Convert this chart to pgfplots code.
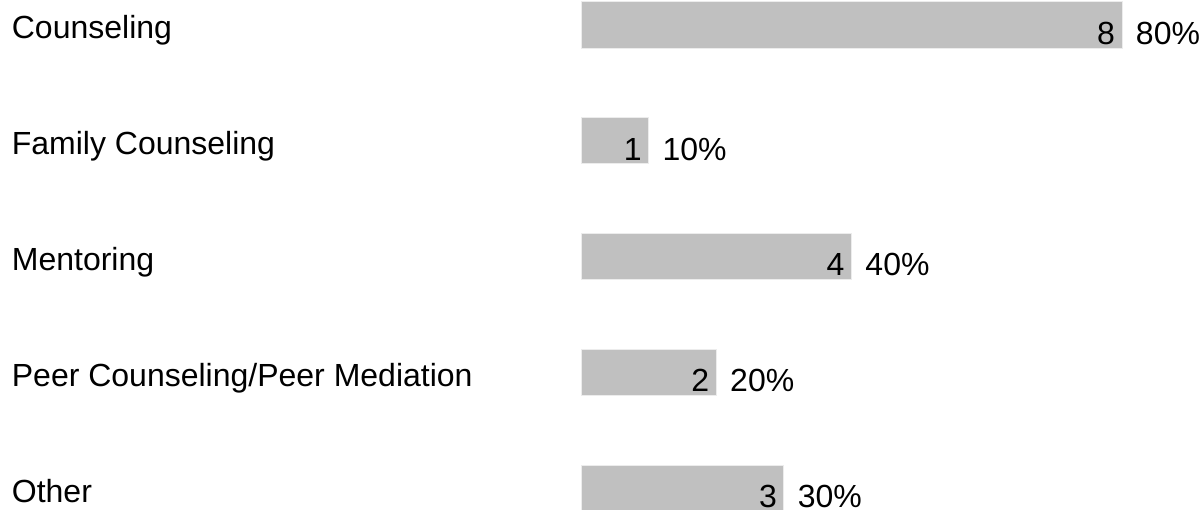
\documentclass[border=0pt]{standalone}
\usepackage{pgfplots}
\pgfplotsset{compat=1.18}
\usepackage{pgfplotstable}
\usepackage{fontspec}
\setmainfont{Liberation Sans}
\definecolor{barc}{RGB}{192,192,192}
\definecolor{edgec}{RGB}{236,236,236}
\pgfplotstableread{
y v p
0 8 80
1 1 10
2 4 40
3 2 20
4 3 30
}\data
\begin{document}
\begin{tikzpicture}
\useasboundingbox (0,0) rectangle (601.5pt,254.5pt);
\begin{axis}[
  at={(290.5pt,271pt)}, anchor=north west,
  scale only axis, width=270.5pt, height=290pt,
  xmin=0, xmax=8, ymin=-0.5, ymax=4.5, y dir=reverse,
  enlargelimits=false, clip=false,
  axis lines=none, ticks=none,
  font=\fontsize{16pt}{19pt}\selectfont,
]
\addplot[xbar, bar width=23pt, fill=barc, draw=edgec, line width=0.5pt,
  visualization depends on={\thisrow{p} \as \pct},
  visualization depends on={\thisrow{v} \as \val},
  nodes near coords={\llap{\pgfmathprintnumber[assume math mode=true,fixed,precision=0]{\val}\hspace{3.75pt}}\hspace{6.75pt}\pgfmathprintnumber[assume math mode=true,fixed,precision=0]{\pct}\%},
  every node near coord/.append style={anchor=base west, inner sep=0pt, yshift=-9.5pt, text=black, font=\fontsize{16pt}{19pt}\selectfont},
] table[x=v, y=y] {\data};
\foreach \k/\lab in {0/Counseling,1/Family Counseling,2/Mentoring,3/Peer Counseling\slash Peer Mediation,4/Other}{
  \edef\tmp{\noexpand\node[anchor=base west, inner sep=0pt, xshift=-284.75pt, yshift=-7pt, font=\noexpand\fontsize{16pt}{19pt}\noexpand\selectfont] at (axis cs:0,\k) {\unexpanded\expandafter{\lab}};}
  \tmp
}
\end{axis}
\end{tikzpicture}
\end{document}
